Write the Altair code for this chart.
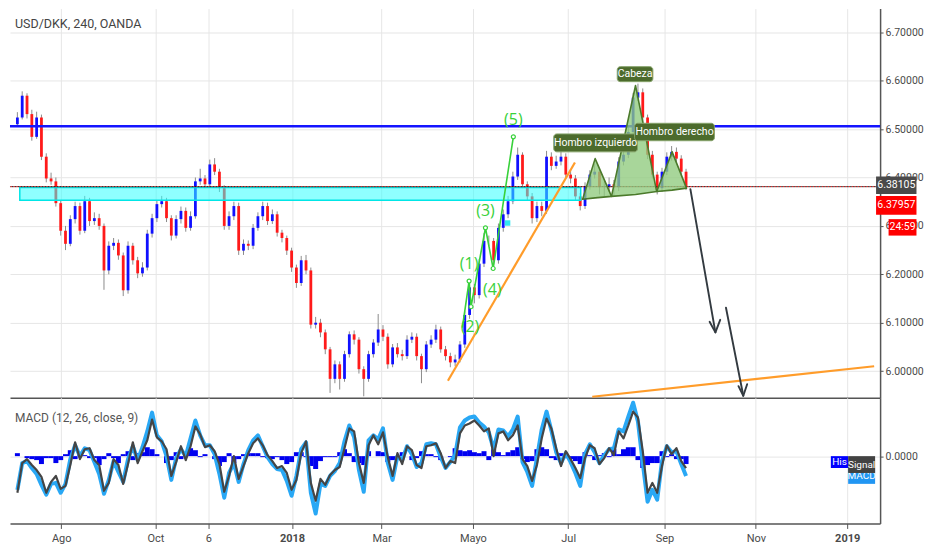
import altair as alt
import pandas as pd

FONT = "Roboto, sans-serif"

chart_title = "USD/DKK, 240, OANDA"
macd_title = "MACD (12, 26, close, 9)"

# ---------------- price candles (4h, sampled) ----------------
first_open = 6.510
close = [6.524, 6.569, 6.531, 6.484, 6.524, 6.443, 6.398, 6.392, 6.347, 6.290,
         6.263, 6.314, 6.341, 6.290, 6.351, 6.310, 6.316, 6.300, 6.208, 6.259,
         6.265, 6.239, 6.167, 6.259, 6.229, 6.202, 6.214, 6.284, 6.316, 6.345,
         6.351, 6.316, 6.280, 6.314, 6.331, 6.296, 6.320, 6.392, 6.398, 6.386,
         6.427, 6.412, 6.378, 6.300, 6.320, 6.341, 6.249, 6.263, 6.259, 6.296,
         6.320, 6.341, 6.310, 6.324, 6.286, 6.275, 6.249, 6.214, 6.182, 6.229,
         6.208, 6.096, 6.100, 6.080, 6.045, 5.984, 6.014, 5.984, 6.035, 6.076,
         6.065, 6.004, 5.984, 6.035, 6.059, 6.086, 6.071, 6.014, 6.049, 6.035,
         6.031, 6.065, 6.071, 6.031, 6.004, 6.055, 6.065, 6.086, 6.045, 6.031,
         6.018, 6.024, 6.055, 6.116, 6.173, 6.157, 6.222, 6.269, 6.269, 6.229,
         6.296, 6.324, 6.351, 6.402, 6.447, 6.386, 6.361, 6.316, 6.341, 6.331,
         6.443, 6.424, 6.433, 6.443, 6.406, 6.398, 6.361, 6.341, 6.382, 6.406,
         6.412, 6.380, 6.380, 6.386, 6.380, 6.433, 6.447, 6.494, 6.565, 6.576,
         6.524, 6.447, 6.406, 6.378, 6.412, 6.443, 6.453, 6.439, 6.412, 6.381]
high = [6.535, 6.578, 6.574, 6.540, 6.536, 6.530, 6.450, 6.410, 6.400, 6.352,
        6.300, 6.322, 6.350, 6.348, 6.362, 6.358, 6.328, 6.325, 6.305, 6.268,
        6.275, 6.272, 6.245, 6.268, 6.265, 6.236, 6.225, 6.292, 6.325, 6.352,
        6.362, 6.358, 6.322, 6.322, 6.340, 6.338, 6.330, 6.400, 6.418, 6.405,
        6.437, 6.440, 6.418, 6.384, 6.330, 6.350, 6.348, 6.272, 6.270, 6.304,
        6.328, 6.350, 6.348, 6.334, 6.330, 6.292, 6.280, 6.255, 6.220, 6.238,
        6.240, 6.214, 6.112, 6.108, 6.086, 6.050, 6.022, 6.020, 6.042, 6.082,
        6.084, 6.070, 6.010, 6.042, 6.066, 6.118, 6.095, 6.078, 6.056, 6.058,
        6.044, 6.074, 6.080, 6.078, 6.036, 6.062, 6.074, 6.096, 6.092, 6.052,
        6.038, 6.034, 6.062, 6.124, 6.185, 6.180, 6.232, 6.285, 6.280, 6.275,
        6.305, 6.334, 6.362, 6.412, 6.462, 6.452, 6.392, 6.368, 6.350, 6.350,
        6.455, 6.452, 6.445, 6.455, 6.450, 6.415, 6.405, 6.368, 6.390, 6.415,
        6.428, 6.418, 6.392, 6.400, 6.395, 6.442, 6.460, 6.505, 6.575, 6.594,
        6.584, 6.530, 6.455, 6.412, 6.420, 6.452, 6.465, 6.462, 6.446, 6.418]
low = [6.505, 6.520, 6.522, 6.476, 6.480, 6.436, 6.390, 6.385, 6.340, 6.280,
       6.250, 6.258, 6.305, 6.282, 6.285, 6.300, 6.302, 6.292, 6.168, 6.200,
       6.250, 6.230, 6.155, 6.160, 6.220, 6.192, 6.195, 6.208, 6.276, 6.308,
       6.338, 6.308, 6.270, 6.274, 6.305, 6.288, 6.290, 6.315, 6.385, 6.378,
       6.380, 6.405, 6.370, 6.292, 6.292, 6.312, 6.240, 6.240, 6.250, 6.252,
       6.290, 6.312, 6.302, 6.304, 6.278, 6.266, 6.240, 6.205, 6.172, 6.176,
       6.200, 6.088, 6.088, 6.070, 6.035, 5.955, 5.975, 5.962, 5.978, 6.028,
       6.055, 5.995, 5.948, 5.978, 6.028, 6.052, 6.062, 6.005, 6.008, 6.028,
       6.022, 6.025, 6.058, 6.022, 5.975, 5.998, 6.048, 6.058, 6.038, 6.022,
       6.008, 6.010, 6.018, 6.048, 6.108, 6.140, 6.150, 6.215, 6.258, 6.220,
       6.222, 6.288, 6.316, 6.345, 6.395, 6.378, 6.352, 6.305, 6.308, 6.320,
       6.325, 6.415, 6.418, 6.425, 6.398, 6.388, 6.352, 6.332, 6.335, 6.375,
       6.398, 6.365, 6.360, 6.370, 6.362, 6.372, 6.425, 6.440, 6.488, 6.558,
       6.515, 6.438, 6.398, 6.365, 6.370, 6.405, 6.435, 6.430, 6.404, 6.374]

# ---------------- MACD (units of 0.0001) ----------------
signal = [-37, -7, -3, -9, -14, -21, -37, -26, -20, -33,
          -30, -9, 14, -3, 7, 8, -4, -9, -35, -27,
          -3, -9, -28, -8, 14, -7, 5, 16, 37, 19,
          15, 7, -20, -6, 10, -4, 10, 30, 22, 9,
          11, 5, -8, -36, -20, 0, -23, -10, 3, 13,
          18, 11, 1, -5, -12, -10, -17, -34, -24, 3,
          15, -27, -45, -23, -29, -19, -14, -11, 8, 28,
          25, -7, -27, 11, 21, 12, 24, -1, -20, 3,
          -8, 10, 6, -9, -12, 10, 11, 13, 3, -12,
          -5, -7, 23, 31, 33, 36, 31, 25, 28, 0,
          23, 25, 16, 21, 31, -3, -10, -25, -9, 18,
          38, 28, 8, -10, 5, -3, -12, -22, -2, 11,
          8, -8, -2, 8, 1, 25, 18, 31, 45, 39,
          5, -37, -27, -37, -10, 11, 2, 8, -5, -12]
macd = [-34, -7, -5, -12, -18, -29, -39, -28, -27, -37,
        -28, -3, 11, 0, 8, 6, -6, -18, -38, -24,
        -5, -16, -26, -3, 10, -4, 9, 25, 44, 21,
        15, 0, -24, -2, 7, 0, 18, 36, 21, 11,
        11, 2, -18, -42, -17, -7, -26, -8, 6, 16,
        21, 10, -1, -8, -13, -14, -25, -40, -20, 7,
        14, -37, -58, -28, -30, -20, -15, -7, 15, 31,
        19, -14, -36, 16, 21, 17, 28, -7, -24, 0,
        -4, 10, 2, -11, -7, 12, 13, 12, -1, -12,
        -6, 1, 29, 36, 39, 40, 34, 30, 24, 7,
        27, 26, 20, 27, 40, -6, -16, -30, -2, 27,
        45, 26, 4, -7, 3, -6, -17, -30, 2, 12,
        4, -7, 1, 7, 8, 27, 25, 40, 54, 35,
        -7, -46, -34, -44, -5, 10, 4, 5, -8, -20]

# ---------------- axes ----------------
x_ticks = [9.6, 29.2, 40.2, 57.6, 76.2, 95.2, 115.0, 135.0, 154.0, 173.0]
x_labels = ["Ago", "Oct", "6", "2018", "Mar", "Mayo", "Jul", "Sep", "Nov", "2019"]
bold_labels = ["2018", "2019"]
price_ticks = [6.0, 6.1, 6.2, 6.3, 6.4, 6.5, 6.6, 6.7]

# ---------------- drawings ----------------
resistance_price = [6.506]
last_price = [6.38105]

zone_x = [1.0, 117.6]
zone_p = [6.353, 6.3795]

trend_id = ["t1", "t1", "t2", "t2"]
trend_x = [90.0, 116.4, 120.0, 178.6]
trend_p = [5.980, 6.431, 5.947, 6.010]

wave_x = [93.0, 94.4, 94.8, 97.8, 99.4, 103.6]
wave_p = [6.090, 6.186, 6.133, 6.296, 6.212, 6.484]
wave_lbl = ["(1)", "(2)", "(3)", "(4)", "(5)"]
wave_lbl_x = [94.4, 94.6, 97.8, 99.2, 103.6]
wave_lbl_p = [6.222, 6.092, 6.331, 6.167, 6.518]

marker_x = [102.4]
marker_p = [6.306]

hs_id = ["ls", "ls", "ls", "head", "head", "head", "rs", "rs", "rs"]
hs_x = [118.0, 120.6, 124.0, 124.0, 129.0, 133.4, 133.4, 136.6, 139.6]
hs_top = [6.355, 6.439, 6.361, 6.361, 6.590, 6.371, 6.371, 6.453, 6.378]
hs_base = [6.355, 6.358, 6.361, 6.361, 6.365, 6.371, 6.371, 6.374, 6.378]

ann_text = ["Cabeza", "Hombro izquierdo", "Hombro derecho"]
ann_x1 = [125.2, 112.0, 128.8]
ann_x2 = [132.6, 129.4, 145.4]
ann_p1 = [6.598, 6.453, 6.476]
ann_p2 = [6.629, 6.490, 6.512]

arrow_id = ["a1", "a1", "h1", "h1", "h1", "a2", "a2", "h2", "h2", "h2"]
arrow_x = [140.4, 145.6, 144.4, 145.6, 146.6, 147.8, 151.4, 150.4, 151.4, 152.2]
arrow_p = [6.376, 6.080, 6.102, 6.080, 6.106, 6.131, 5.949, 5.969, 5.949, 5.973]

plabel_text = ["6.38105", "6.37957", "24:59"]
plabel_x1 = [179.0, 179.0, 181.6]
plabel_x2 = [187.4, 187.4, 187.4]
plabel_p1 = [6.366, 6.323, 6.280]
plabel_p2 = [6.402, 6.362, 6.314]
plabel_color = ["#4a4a4a", "#ff0000", "#ff0000"]

mbox_text = ["MACD", "His", "Signal"]
mbox_x1 = [173.2, 169.6, 173.2]
mbox_x2 = [178.8, 173.2, 178.8]
mbox_v1 = [-28, -12, -17]
mbox_v2 = [-12, 0, 0]
mbox_color = ["#2196f3", "#0000ff", "#424242"]

# ---------------- frames ----------------
n = len(close)
t = [i + 0.5 for i in range(n)]
opens = [first_open] + close[:-1]
candles = pd.DataFrame({"t": t, "open": opens, "close": close, "high": high, "low": low})
candles["dir"] = ["up" if c >= o else "down" for o, c in zip(opens, close)]

mdf = pd.DataFrame({"t": t, "macd": macd, "signal": signal})
mdf["hist"] = mdf["macd"] - mdf["signal"]
mdf["zero"] = 0

W = 872
H_MAIN = 390
H_MACD = 126
GREEN = "#38d13a"
GRID = "#e6e6e6"
AX = "#555555"

xs = alt.Scale(domain=[0, 178.8], nice=False, zero=False)
ys = alt.Scale(domain=[5.945, 6.749], nice=False, zero=False)
ms = alt.Scale(domain=[-68, 59], nice=False, zero=False)

mids = [(a + b) / 2 for a, b in zip(x_ticks[:-1], x_ticks[1:])]
expr = ""
for m, lab in zip(mids, x_labels[:-1]):
    expr += "datum.value < %s ? '%s' : " % (m, lab)
expr += "'%s'" % x_labels[-1]
bold_vals = [v for v, lab in zip(x_ticks, x_labels) if lab in bold_labels]
bold_test = " || ".join("abs(datum.value - %s) < 0.01" % v for v in bold_vals)

x_axis_main = alt.Axis(values=x_ticks, labels=False, ticks=False, grid=True, gridColor=GRID,
                       domainColor=AX, domainWidth=1.5, title=None)
y_axis_main = alt.Axis(orient="right", values=price_ticks, format=".5f", grid=True, gridColor=GRID,
                       domainColor=AX, domainWidth=1.5, tickColor=AX, tickSize=3,
                       labelColor="#4a4a4a", labelFontSize=10.5, labelFont=FONT, labelPadding=2, title=None)
x_axis_macd = alt.Axis(values=x_ticks, labelExpr=expr, grid=True, gridColor=GRID,
                       domainColor=AX, domainWidth=1.5, tickColor=AX, tickSize=5,
                       labelColor="#4a4a4a", labelFontSize=11, labelFont=FONT, labelPadding=4,
                       labelFontWeight={"condition": {"test": bold_test, "value": "bold"}, "value": "normal"},
                       title=None)
y_axis_macd = alt.Axis(orient="right", values=[0], format=".4f", grid=True, gridColor=GRID,
                       domainColor=AX, domainWidth=1.5, tickColor=AX, tickSize=3,
                       labelColor="#4a4a4a", labelFontSize=10.5, labelFont=FONT, labelPadding=2, title=None)


def X(f):
    return alt.X(f, type="quantitative", scale=xs, axis=x_axis_main)


def Y(f):
    return alt.Y(f, type="quantitative", scale=ys, axis=y_axis_main)


def MX(f):
    return alt.X(f, type="quantitative", scale=xs, axis=x_axis_macd)


def MY(f):
    return alt.Y(f, type="quantitative", scale=ms, axis=y_axis_macd)


wicks = alt.Chart(candles).mark_rule(color="#8c8c8c", strokeWidth=1).encode(
    x=X("t"), y=Y("low"), y2="high:Q")
bodies = alt.Chart(candles).mark_bar(size=2.8).encode(
    x=X("t"), y=Y("open"), y2="close:Q",
    color=alt.Color("dir:N", scale=alt.Scale(domain=["up", "down"], range=["#1010ff", "#ff1a1a"]), legend=None),
)

zone = alt.Chart(pd.DataFrame({"x1": [zone_x[0]], "x2": [zone_x[1]], "p1": [zone_p[0]], "p2": [zone_p[1]]})).mark_rect(
    fill="#33ffff", fillOpacity=0.55, stroke="#00e6e6", strokeWidth=1.5
).encode(x=X("x1"), x2="x2:Q", y=Y("p1"), y2="p2:Q")

res_line = alt.Chart(pd.DataFrame({"p": resistance_price})).mark_rule(color="#1414ff", strokeWidth=2.6).encode(y=Y("p"))

last_red = alt.Chart(pd.DataFrame({"p": last_price})).mark_rule(
    color="#e00000", strokeWidth=1, strokeDash=[1.5, 1.5]).encode(y=Y("p"))
last_blk = alt.Chart(pd.DataFrame({"p": last_price})).mark_rule(
    color="#111111", strokeWidth=1, strokeDash=[1.5, 1.5], strokeDashOffset=1.5).encode(y=Y("p"))

trend = alt.Chart(pd.DataFrame({"id": trend_id, "x": trend_x, "p": trend_p})).mark_line(
    color="#ff9c2a", strokeWidth=2.2
).encode(x=X("x"), y=Y("p"), detail="id:N")

wave_df = pd.DataFrame({"x": wave_x, "p": wave_p})
wave = alt.Chart(wave_df).mark_line(color=GREEN, strokeWidth=1.6, strokeJoin="round").encode(x=X("x"), y=Y("p"))
wave_pts = alt.Chart(wave_df.iloc[1:]).mark_point(shape="circle", filled=True, fill="white", stroke=GREEN,
                                                  size=16, strokeWidth=1.2, opacity=1).encode(x=X("x"), y=Y("p"))
wave_txt = alt.Chart(pd.DataFrame({"x": wave_lbl_x, "p": wave_lbl_p, "s": wave_lbl})).mark_text(
    color=GREEN, fontSize=16, font="Open Sans, sans-serif", align="center", baseline="middle"
).encode(x=X("x"), y=Y("p"), text="s:N")

marker = alt.Chart(pd.DataFrame({"x": marker_x, "p": marker_p})).mark_square(
    color="#33e6f0", size=30, opacity=1
).encode(x=X("x"), y=Y("p"))

hs = alt.Chart(pd.DataFrame({"id": hs_id, "x": hs_x, "top": hs_top, "base": hs_base})).mark_area(
    fill="#8fca7e", fillOpacity=0.78, stroke="#4b7a2b", strokeWidth=1.6, strokeJoin="round"
).encode(x=X("x"), y=Y("top"), y2="base:Q", detail="id:N")

ann_df = pd.DataFrame({"s": ann_text, "x1": ann_x1, "x2": ann_x2, "p1": ann_p1, "p2": ann_p2})
ann_df["xc"] = (ann_df["x1"] + ann_df["x2"]) / 2
ann_df["pc"] = (ann_df["p1"] + ann_df["p2"]) / 2
ann_box = alt.Chart(ann_df).mark_rect(fill="#4c6b2c", stroke="#86a36a", strokeWidth=1, cornerRadius=3).encode(
    x=X("x1"), x2="x2:Q", y=Y("p1"), y2="p2:Q")
ann_txt = alt.Chart(ann_df).mark_text(color="white", fontSize=10.5, font=FONT, align="center",
                                      baseline="middle").encode(x=X("xc"), y=Y("pc"), text="s:N")

arrows = alt.Chart(pd.DataFrame({"id": arrow_id, "x": arrow_x, "p": arrow_p, "k": list(range(len(arrow_x)))})).mark_line(
    color="#333a40", strokeWidth=1.9, strokeJoin="round", strokeCap="round"
).encode(x=X("x"), y=Y("p"), detail="id:N", order="k:Q")

title_txt = alt.Chart(pd.DataFrame({"s": [chart_title]})).mark_text(
    align="left", baseline="middle", fontSize=12.5, color="#444444", font=FONT
).encode(x=alt.value(5), y=alt.value(15), text="s:N")

pl_df = pd.DataFrame({"s": plabel_text, "x1": plabel_x1, "x2": plabel_x2, "p1": plabel_p1, "p2": plabel_p2,
                      "c": plabel_color})
pl_df["xc"] = (pl_df["x1"] + pl_df["x2"]) / 2
pl_df["pc"] = (pl_df["p1"] + pl_df["p2"]) / 2
pl_box = alt.Chart(pl_df).mark_rect().encode(x=X("x1"), x2="x2:Q", y=Y("p1"), y2="p2:Q",
                                             color=alt.Color("c:N", scale=None, legend=None))
pl_txt = alt.Chart(pl_df).mark_text(color="white", fontSize=10.5, font=FONT, align="center",
                                    baseline="middle").encode(x=X("xc"), y=Y("pc"), text="s:N")

main = alt.layer(
    wicks, bodies, zone, res_line, last_red, last_blk, trend, wave, wave_pts, wave_txt, marker,
    hs, ann_box, ann_txt, arrows, title_txt, pl_box, pl_txt
).properties(width=W, height=H_MAIN)

# ---------------- MACD panel ----------------
hist = alt.Chart(mdf).mark_bar(size=5, color="#0000f0").encode(x=MX("t"), y=MY("zero"), y2="hist:Q")
macd_line = alt.Chart(mdf).mark_line(color="#29a8f5", strokeWidth=4, strokeJoin="round").encode(
    x=MX("t"), y=MY("macd"))
sig_line = alt.Chart(mdf).mark_line(color="#454545", strokeWidth=2.2, strokeJoin="round").encode(
    x=MX("t"), y=MY("signal"))
macd_txt = alt.Chart(pd.DataFrame({"s": [macd_title]})).mark_text(
    align="left", baseline="middle", fontSize=12, color="#555555", font=FONT
).encode(x=alt.value(5), y=alt.value(20), text="s:N")

mb_df = pd.DataFrame({"s": mbox_text, "x1": mbox_x1, "x2": mbox_x2, "v1": mbox_v1, "v2": mbox_v2, "c": mbox_color})
mb_df["xc"] = (mb_df["x1"] + mb_df["x2"]) / 2
mb_df["vc"] = (mb_df["v1"] + mb_df["v2"]) / 2
mb_layers = []
for s in mbox_text:
    sub = mb_df[mb_df["s"] == s]
    mb_layers.append(alt.Chart(sub).mark_rect().encode(
        x=MX("x1"), x2="x2:Q", y=MY("v1"), y2="v2:Q", color=alt.Color("c:N", scale=None, legend=None)))
    mb_layers.append(alt.Chart(sub).mark_text(color="white", fontSize=10, font=FONT, align="center",
                                              baseline="middle").encode(x=MX("xc"), y=MY("vc"), text="s:N"))

macd_chart = alt.layer(hist, macd_line, sig_line, macd_txt, *mb_layers).properties(width=W, height=H_MACD)

chart = alt.vconcat(main, macd_chart, spacing=0, bounds="flush").properties(
    background="white", padding=0
).configure_view(stroke=None, strokeWidth=0, strokeOpacity=0)

chart.save("out.html", embed_options={"renderer": "svg", "actions": False})
